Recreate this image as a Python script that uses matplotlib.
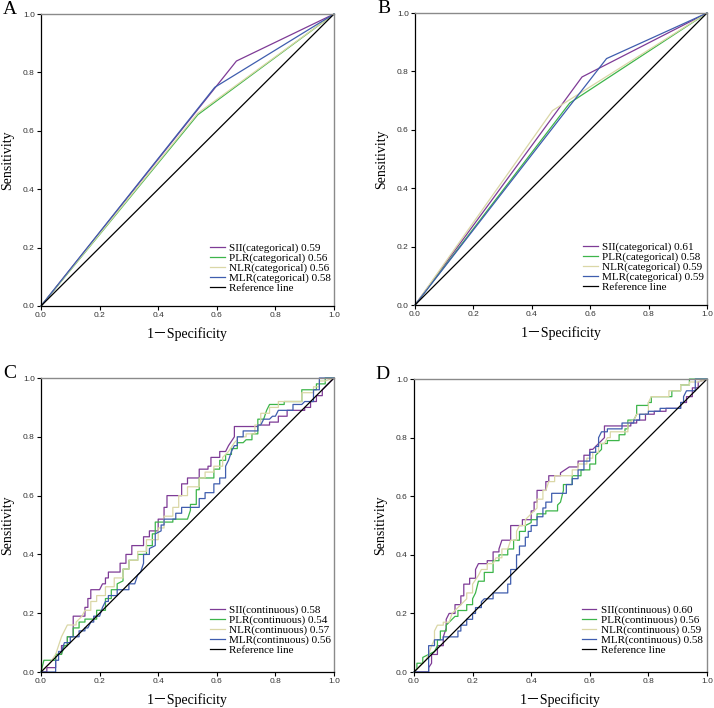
import matplotlib
matplotlib.use("Agg")
import matplotlib.pyplot as plt

# ---- data -------------------------------------------------------------
labels = ["SII", "PLR", "NLR", "MLR"]
colors = ["#7E3B96", "#3DB54A", "#DAD7A6", "#3F5DAE"]

auc_a = [0.59, 0.56, 0.56, 0.58]
auc_b = [0.61, 0.58, 0.59, 0.59]
auc_c = [0.58, 0.54, 0.57, 0.56]
auc_d = [0.60, 0.56, 0.59, 0.58]

# categorical cut-offs: single operating point (1-specificity, sensitivity)
knee_a_x = [0.667, 0.535, 0.535, 0.593]
knee_a_y = [0.839, 0.655, 0.660, 0.749]
knee_b_x = [0.572, 0.530, 0.471, 0.656]
knee_b_y = [0.781, 0.692, 0.666, 0.844]

# continuous ROC curves (corner points)
c_sii_x = [0, 0.02, 0.02, 0.05, 0.05, 0.07, 0.07, 0.09, 0.09, 0.11, 0.11, 0.15, 0.15, 0.16, 0.16, 0.17, 0.17, 0.20, 0.21, 0.22, 0.22, 0.23, 0.23, 0.27, 0.27, 0.29, 0.29, 0.31, 0.31, 0.35, 0.35, 0.37, 0.37, 0.40, 0.40, 0.42, 0.42, 0.43, 0.43, 0.48, 0.48, 0.50, 0.50, 0.54, 0.54, 0.57, 0.57, 0.58, 0.58, 0.61, 0.61, 0.63, 0.64, 0.66, 0.66, 0.74, 0.74, 0.78, 0.78, 0.81, 0.81, 0.84, 0.84, 0.90, 0.90, 0.92, 0.92, 0.94, 0.94, 0.96, 0.96, 0.97, 1.0]
c_sii_y = [0, 0, 0.015, 0.015, 0.06, 0.06, 0.09, 0.09, 0.12, 0.12, 0.19, 0.19, 0.22, 0.22, 0.25, 0.25, 0.28, 0.28, 0.30, 0.30, 0.32, 0.32, 0.34, 0.34, 0.37, 0.37, 0.40, 0.40, 0.43, 0.43, 0.46, 0.46, 0.48, 0.48, 0.52, 0.52, 0.56, 0.56, 0.60, 0.60, 0.64, 0.64, 0.66, 0.66, 0.69, 0.69, 0.70, 0.70, 0.73, 0.73, 0.75, 0.75, 0.77, 0.80, 0.835, 0.835, 0.84, 0.84, 0.85, 0.85, 0.87, 0.87, 0.89, 0.89, 0.90, 0.90, 0.92, 0.92, 0.94, 0.94, 0.96, 0.97, 1.0]
c_plr_x = [0, 0.01, 0.05, 0.05, 0.07, 0.08, 0.09, 0.09, 0.11, 0.11, 0.13, 0.13, 0.15, 0.15, 0.19, 0.19, 0.22, 0.22, 0.24, 0.24, 0.26, 0.26, 0.28, 0.28, 0.30, 0.30, 0.33, 0.33, 0.36, 0.36, 0.38, 0.38, 0.39, 0.39, 0.45, 0.45, 0.50, 0.51, 0.51, 0.53, 0.53, 0.54, 0.54, 0.59, 0.59, 0.61, 0.61, 0.63, 0.63, 0.65, 0.65, 0.67, 0.67, 0.69, 0.70, 0.72, 0.72, 0.74, 0.74, 0.76, 0.77, 0.78, 0.83, 0.83, 0.89, 0.89, 0.94, 0.94, 0.97, 0.97, 1.0]
c_plr_y = [0, 0.04, 0.04, 0.06, 0.06, 0.09, 0.09, 0.12, 0.12, 0.15, 0.15, 0.17, 0.17, 0.18, 0.18, 0.21, 0.21, 0.25, 0.25, 0.28, 0.28, 0.30, 0.31, 0.35, 0.35, 0.38, 0.38, 0.40, 0.40, 0.43, 0.43, 0.47, 0.47, 0.51, 0.51, 0.52, 0.52, 0.55, 0.57, 0.57, 0.62, 0.62, 0.66, 0.66, 0.69, 0.69, 0.72, 0.72, 0.74, 0.74, 0.76, 0.76, 0.78, 0.78, 0.79, 0.79, 0.81, 0.81, 0.86, 0.86, 0.89, 0.91, 0.91, 0.92, 0.92, 0.96, 0.96, 0.98, 0.98, 1.0, 1.0]
c_nlr_x = [0, 0.03, 0.05, 0.06, 0.07, 0.08, 0.09, 0.12, 0.12, 0.14, 0.15, 0.17, 0.17, 0.19, 0.19, 0.22, 0.22, 0.25, 0.25, 0.28, 0.28, 0.30, 0.30, 0.33, 0.33, 0.36, 0.36, 0.40, 0.40, 0.42, 0.42, 0.45, 0.45, 0.47, 0.47, 0.50, 0.50, 0.54, 0.54, 0.56, 0.56, 0.59, 0.59, 0.62, 0.62, 0.64, 0.66, 0.67, 0.67, 0.70, 0.70, 0.73, 0.73, 0.75, 0.75, 0.78, 0.78, 0.81, 0.81, 0.89, 0.89, 0.93, 0.93, 0.95, 0.95, 0.97, 1.0]
c_nlr_y = [0, 0.03, 0.06, 0.09, 0.12, 0.14, 0.16, 0.16, 0.17, 0.19, 0.21, 0.21, 0.24, 0.24, 0.26, 0.26, 0.29, 0.29, 0.32, 0.32, 0.35, 0.35, 0.38, 0.38, 0.41, 0.41, 0.45, 0.45, 0.49, 0.49, 0.53, 0.53, 0.56, 0.56, 0.60, 0.60, 0.63, 0.63, 0.66, 0.66, 0.68, 0.68, 0.70, 0.70, 0.73, 0.75, 0.78, 0.79, 0.80, 0.80, 0.81, 0.81, 0.84, 0.84, 0.88, 0.88, 0.90, 0.90, 0.92, 0.92, 0.95, 0.95, 0.97, 0.97, 0.99, 0.99, 1.0]
c_mlr_x = [0, 0.05, 0.05, 0.06, 0.06, 0.07, 0.08, 0.10, 0.10, 0.13, 0.13, 0.15, 0.15, 0.16, 0.17, 0.18, 0.18, 0.20, 0.21, 0.22, 0.23, 0.23, 0.26, 0.26, 0.30, 0.30, 0.32, 0.33, 0.34, 0.35, 0.35, 0.37, 0.37, 0.39, 0.39, 0.41, 0.41, 0.42, 0.42, 0.46, 0.46, 0.48, 0.48, 0.54, 0.54, 0.56, 0.56, 0.59, 0.59, 0.61, 0.61, 0.63, 0.63, 0.64, 0.65, 0.66, 0.67, 0.67, 0.69, 0.69, 0.74, 0.74, 0.75, 0.76, 0.78, 0.79, 0.80, 0.81, 0.86, 0.86, 0.89, 0.90, 0.93, 0.93, 0.95, 0.95, 1.0]
c_mlr_y = [0, 0, 0.04, 0.04, 0.07, 0.07, 0.10, 0.10, 0.12, 0.12, 0.14, 0.14, 0.15, 0.15, 0.17, 0.17, 0.19, 0.19, 0.22, 0.24, 0.24, 0.26, 0.26, 0.28, 0.28, 0.30, 0.30, 0.33, 0.34, 0.37, 0.40, 0.40, 0.42, 0.43, 0.47, 0.48, 0.50, 0.50, 0.52, 0.52, 0.54, 0.54, 0.56, 0.56, 0.59, 0.59, 0.61, 0.61, 0.64, 0.64, 0.66, 0.66, 0.70, 0.72, 0.75, 0.77, 0.77, 0.80, 0.80, 0.82, 0.82, 0.84, 0.84, 0.86, 0.86, 0.87, 0.87, 0.89, 0.89, 0.91, 0.91, 0.92, 0.92, 0.96, 0.96, 1.0, 1.0]

d_sii_x = [0, 0.05, 0.05, 0.06, 0.06, 0.08, 0.08, 0.10, 0.10, 0.11, 0.11, 0.12, 0.14, 0.14, 0.16, 0.16, 0.17, 0.17, 0.19, 0.19, 0.21, 0.21, 0.22, 0.25, 0.25, 0.27, 0.27, 0.29, 0.29, 0.30, 0.33, 0.33, 0.37, 0.37, 0.40, 0.40, 0.41, 0.41, 0.42, 0.42, 0.45, 0.45, 0.46, 0.46, 0.50, 0.50, 0.53, 0.56, 0.56, 0.58, 0.58, 0.60, 0.60, 0.61, 0.63, 0.65, 0.65, 0.74, 0.74, 0.76, 0.76, 0.79, 0.79, 0.82, 0.82, 0.86, 0.86, 0.91, 0.91, 0.93, 0.93, 0.95, 0.95, 0.97, 0.97, 1.0]
d_sii_y = [0, 0, 0.015, 0.03, 0.06, 0.06, 0.09, 0.09, 0.12, 0.15, 0.18, 0.20, 0.20, 0.23, 0.23, 0.26, 0.26, 0.30, 0.30, 0.32, 0.32, 0.35, 0.37, 0.37, 0.38, 0.38, 0.41, 0.41, 0.42, 0.45, 0.45, 0.50, 0.50, 0.52, 0.52, 0.55, 0.55, 0.58, 0.58, 0.62, 0.62, 0.65, 0.65, 0.67, 0.67, 0.68, 0.70, 0.70, 0.72, 0.72, 0.74, 0.74, 0.76, 0.76, 0.78, 0.80, 0.84, 0.84, 0.85, 0.85, 0.86, 0.86, 0.88, 0.88, 0.89, 0.89, 0.90, 0.90, 0.92, 0.92, 0.94, 0.94, 0.97, 0.97, 0.99, 1.0]
d_plr_x = [0, 0.01, 0.01, 0.03, 0.03, 0.05, 0.07, 0.08, 0.08, 0.09, 0.09, 0.11, 0.11, 0.12, 0.14, 0.15, 0.15, 0.18, 0.18, 0.20, 0.20, 0.21, 0.22, 0.24, 0.24, 0.27, 0.27, 0.29, 0.29, 0.32, 0.32, 0.34, 0.34, 0.36, 0.36, 0.38, 0.38, 0.40, 0.40, 0.42, 0.42, 0.45, 0.45, 0.49, 0.49, 0.50, 0.51, 0.51, 0.54, 0.54, 0.57, 0.57, 0.60, 0.60, 0.62, 0.62, 0.64, 0.64, 0.66, 0.66, 0.70, 0.70, 0.72, 0.72, 0.73, 0.73, 0.75, 0.76, 0.76, 0.80, 0.80, 0.81, 0.81, 0.88, 0.88, 0.91, 0.91, 0.94, 0.94, 1.0]
d_plr_y = [0, 0.01, 0.03, 0.03, 0.05, 0.06, 0.07, 0.09, 0.11, 0.11, 0.14, 0.14, 0.16, 0.17, 0.19, 0.19, 0.21, 0.21, 0.23, 0.23, 0.25, 0.27, 0.31, 0.31, 0.34, 0.34, 0.38, 0.38, 0.40, 0.40, 0.42, 0.42, 0.45, 0.45, 0.48, 0.48, 0.50, 0.51, 0.52, 0.52, 0.54, 0.54, 0.55, 0.55, 0.57, 0.58, 0.62, 0.64, 0.64, 0.67, 0.67, 0.69, 0.69, 0.71, 0.71, 0.74, 0.76, 0.78, 0.78, 0.79, 0.79, 0.81, 0.81, 0.83, 0.83, 0.86, 0.86, 0.88, 0.91, 0.91, 0.92, 0.92, 0.94, 0.94, 0.96, 0.96, 0.98, 0.98, 1.0, 1.0]
d_nlr_x = [0, 0.02, 0.04, 0.05, 0.06, 0.07, 0.07, 0.08, 0.10, 0.10, 0.12, 0.13, 0.15, 0.16, 0.18, 0.18, 0.20, 0.20, 0.22, 0.23, 0.25, 0.25, 0.27, 0.28, 0.30, 0.30, 0.32, 0.33, 0.35, 0.35, 0.36, 0.38, 0.38, 0.40, 0.42, 0.42, 0.44, 0.44, 0.45, 0.46, 0.48, 0.48, 0.54, 0.54, 0.56, 0.56, 0.59, 0.59, 0.61, 0.61, 0.63, 0.63, 0.65, 0.66, 0.67, 0.67, 0.73, 0.73, 0.75, 0.76, 0.80, 0.80, 0.81, 0.87, 0.87, 0.91, 0.91, 0.94, 0.94, 0.97, 1.0]
d_nlr_y = [0, 0.02, 0.04, 0.06, 0.09, 0.11, 0.14, 0.16, 0.16, 0.17, 0.17, 0.20, 0.22, 0.23, 0.25, 0.27, 0.27, 0.30, 0.33, 0.35, 0.35, 0.37, 0.37, 0.39, 0.39, 0.42, 0.42, 0.45, 0.45, 0.48, 0.50, 0.50, 0.52, 0.54, 0.56, 0.59, 0.59, 0.62, 0.62, 0.65, 0.65, 0.67, 0.67, 0.69, 0.69, 0.71, 0.71, 0.73, 0.73, 0.75, 0.75, 0.78, 0.78, 0.80, 0.80, 0.82, 0.82, 0.85, 0.86, 0.88, 0.88, 0.92, 0.94, 0.94, 0.96, 0.96, 0.98, 0.98, 0.99, 0.99, 1.0]
d_mlr_x = [0, 0.05, 0.05, 0.07, 0.07, 0.10, 0.10, 0.15, 0.15, 0.16, 0.16, 0.18, 0.18, 0.20, 0.20, 0.21, 0.21, 0.23, 0.23, 0.24, 0.27, 0.27, 0.32, 0.32, 0.33, 0.33, 0.35, 0.35, 0.36, 0.36, 0.38, 0.38, 0.39, 0.39, 0.40, 0.40, 0.42, 0.42, 0.44, 0.44, 0.45, 0.45, 0.47, 0.47, 0.52, 0.52, 0.54, 0.54, 0.56, 0.56, 0.58, 0.58, 0.60, 0.60, 0.62, 0.62, 0.63, 0.63, 0.64, 0.66, 0.66, 0.71, 0.71, 0.75, 0.75, 0.77, 0.77, 0.80, 0.80, 0.84, 0.84, 0.91, 0.91, 0.92, 0.92, 0.93, 0.96, 0.96, 1.0]
d_mlr_y = [0, 0, 0.09, 0.09, 0.11, 0.11, 0.12, 0.12, 0.14, 0.14, 0.16, 0.16, 0.18, 0.18, 0.20, 0.20, 0.22, 0.22, 0.24, 0.25, 0.25, 0.27, 0.27, 0.30, 0.30, 0.35, 0.35, 0.40, 0.40, 0.43, 0.43, 0.46, 0.46, 0.48, 0.48, 0.50, 0.50, 0.53, 0.53, 0.56, 0.56, 0.58, 0.58, 0.61, 0.61, 0.64, 0.64, 0.66, 0.66, 0.69, 0.69, 0.72, 0.72, 0.75, 0.75, 0.77, 0.77, 0.80, 0.82, 0.82, 0.83, 0.83, 0.85, 0.85, 0.86, 0.86, 0.88, 0.88, 0.89, 0.89, 0.90, 0.90, 0.92, 0.92, 0.94, 0.96, 0.96, 1.0, 1.0]

serif = "Liberation Serif"
sans = "Liberation Sans"


def style_axes(ax, letter):
    ax.set_xlim(0, 1)
    ax.set_ylim(0, 1)
    ax.set_xticks([0, 0.2, 0.4, 0.6, 0.8, 1.0])
    ax.set_yticks([0, 0.2, 0.4, 0.6, 0.8, 1.0])
    ax.set_xticklabels(["0.0", "0.2", "0.4", "0.6", "0.8", "1.0"])
    ax.set_yticklabels(["0.0", "0.2", "0.4", "0.6", "0.8", "1.0"])
    ax.tick_params(direction="out", length=3, width=0.8, pad=1.5,
                   labelsize=6, labelcolor="#333333")
    for lab in ax.get_xticklabels() + ax.get_yticklabels():
        lab.set_family(sans)
    for side in ["left", "bottom"]:
        ax.spines[side].set_color("black")
        ax.spines[side].set_linewidth(0.9)
    for side in ["top", "right"]:
        ax.spines[side].set_color("#8a8a8a")
        ax.spines[side].set_linewidth(1.0)
    ax.set_xlabel("1－Specificity", family=[serif, "Noto Sans CJK SC"], fontsize=10, labelpad=6)
    ax.set_ylabel("Sensitivity", family=serif, fontsize=10, labelpad=6)
    ax.text(-0.13, 1.045, letter, transform=ax.transAxes, family=serif,
            fontsize=14, va="top", ha="left")


def finish(ax, anchor):
    ax.plot([0, 1], [0, 1], color="black", lw=0.9, label="Reference line")
    handles, labs = ax.get_legend_handles_labels()
    ax.legend(handles, labs, loc="lower right", bbox_to_anchor=anchor,
              frameon=False, prop={"family": serif, "size": 8},
              handlelength=1.3, handletextpad=0.4, labelspacing=0.0,
              borderpad=0, borderaxespad=0)


fig = plt.figure(figsize=(7.14, 7.08), dpi=100)
ax_a = fig.add_axes([0.0574, 0.5678, 0.4104, 0.4124])
ax_b = fig.add_axes([0.5812, 0.5692, 0.4090, 0.4124])
ax_c = fig.add_axes([0.0574, 0.0508, 0.4104, 0.4153])
ax_d = fig.add_axes([0.5798, 0.0508, 0.4104, 0.4138])

# panels A and B: categorical
for ax, kx, ky, aucs, letter, anchor in [
        (ax_a, knee_a_x, knee_a_y, auc_a, "A", (0.99, 0.045)),
        (ax_b, knee_b_x, knee_b_y, auc_b, "B", (0.99, 0.045))]:
    style_axes(ax, letter)
    for i in range(4):
        ax.plot([0, kx[i], 1], [0, ky[i], 1], color=colors[i], lw=0.9,
                label=f"{labels[i]}(categorical) {aucs[i]:.2f}", clip_on=False)
    finish(ax, anchor)

# panels C and D: continuous
c_curves = [(c_sii_x, c_sii_y), (c_plr_x, c_plr_y), (c_nlr_x, c_nlr_y), (c_mlr_x, c_mlr_y)]
d_curves = [(d_sii_x, d_sii_y), (d_plr_x, d_plr_y), (d_nlr_x, d_nlr_y), (d_mlr_x, d_mlr_y)]
for ax, curves, aucs, letter, anchor in [
        (ax_c, c_curves, auc_c, "C", (0.99, 0.058)),
        (ax_d, d_curves, auc_d, "D", (0.985, 0.058))]:
    style_axes(ax, letter)
    for i in range(4):
        xs, ys = curves[i]
        ax.plot(xs, ys, color=colors[i], lw=0.9,
                label=f"{labels[i]}(continuous) {aucs[i]:.2f}", clip_on=False)
    finish(ax, anchor)

fig.savefig("out.png", dpi=100)
